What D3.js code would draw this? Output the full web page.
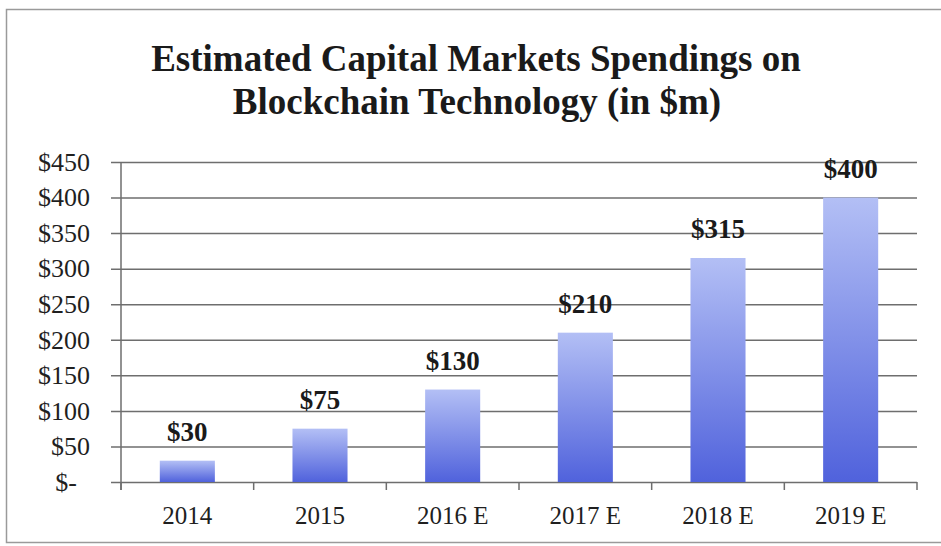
<!DOCTYPE html>
<html>
<head>
<meta charset="utf-8">
<script src="https://cdn.jsdelivr.net/npm/d3@7"></script>
<style>
  body { margin: 0; background: #fff; }
  svg { display: block; font-family: "Liberation Serif", "Times New Roman", serif; }
</style>
</head>
<body>
<div id="chart"></div>
<script>
// chart data
var years = ['2014', '2015', '2016 E', '2017 E', '2018 E', '2019 E'];
var spend = [30, 75, 130, 210, 315, 400];
var yTicks = [0, 50, 100, 150, 200, 250, 300, 350, 400, 450];

var width = 941,
  height = 546;

var margin = {top: 162, right: 24, bottom: 64, left: 121};

var svg = d3.select('#chart').append('svg')
    .attr('width', width)
    .attr('height', height);

// outer frame
svg.append('rect')
    .attr('x', 6.5).attr('y', 9.5)
    .attr('width', 950).attr('height', 533)
    .style('fill', 'none')
    .style('stroke', '#9a9a9a')
    .style('stroke-width', 1.5);

var x = d3.scaleBand()
    .domain(years)
    .range([margin.left, width - margin.right])
    .paddingInner(0.585)
    .paddingOuter(0.2925);

var y = d3.scaleLinear()
    .domain([0, 450])
    .range([height - margin.bottom, margin.top]);

// bar gradient
var grad = svg.append('defs').append('linearGradient')
    .attr('id', 'barGrad')
    .attr('x1', '0%').attr('y1', '0%')
    .attr('x2', '0%').attr('y2', '100%');
grad.append('stop').attr('offset', '0%').attr('stop-color', '#b3bff5');
grad.append('stop').attr('offset', '100%').attr('stop-color', '#5062dc');

// title
svg.append('text')
    .attr('x', 476).attr('y', 71)
    .attr('text-anchor', 'middle')
    .style('font-size', '37px')
    .style('font-weight', 'bold')
    .style('fill', '#1a1a1a')
    .text('Estimated Capital Markets Spendings on');
svg.append('text')
    .attr('x', 477).attr('y', 114)
    .attr('text-anchor', 'middle')
    .style('font-size', '37px')
    .style('font-weight', 'bold')
    .style('fill', '#1a1a1a')
    .text('Blockchain Technology (in $m)');

// gridlines + y axis
var yAxis = d3.axisLeft(y)
    .tickValues(yTicks)
    .tickSize(-(width - margin.right - margin.left))
    .tickPadding(31)
    .tickFormat(function(d) { return d === 0 ? '$-\u2007' : '$' + d; });

var gy = svg.append('g')
    .attr('transform', 'translate(' + margin.left + ',0)')
    .call(yAxis);
gy.select('.domain').remove();
gy.selectAll('.tick line')
    .attr('x1', -10)
    .style('stroke', '#6e6e6e')
    .style('stroke-width', 1.5);
gy.selectAll('.tick text')
    .style('font-size', '26px')
    .style('font-family', '"Liberation Serif", serif')
    .style('fill', '#1f1f1f');

// y axis line
svg.append('line')
    .attr('x1', margin.left).attr('x2', margin.left)
    .attr('y1', y(450)).attr('y2', y(0) + 8)
    .style('stroke', '#6e6e6e')
    .style('stroke-width', 1.5);

// bars
svg.append('g').selectAll('rect')
    .data(spend)
  .enter().append('rect')
    .attr('x', function(d, i) { return x(years[i]); })
    .attr('y', function(d) { return y(d); })
    .attr('width', x.bandwidth())
    .attr('height', function(d) { return y(0) - y(d); })
    .style('fill', 'url(#barGrad)');

// x axis with category boundary ticks
var step = x.step();
var bounds = d3.range(years.length + 1).map(function(i) { return margin.left + i * step; });
svg.append('g').selectAll('line')
    .data(bounds)
  .enter().append('line')
    .attr('x1', function(d) { return d; }).attr('x2', function(d) { return d; })
    .attr('y1', y(0)).attr('y2', y(0) + 8)
    .style('stroke', '#6e6e6e')
    .style('stroke-width', 1.5);

svg.append('g').selectAll('text')
    .data(years)
  .enter().append('text')
    .attr('x', function(d) { return x(d) + x.bandwidth() / 2; })
    .attr('y', 524)
    .attr('text-anchor', 'middle')
    .style('font-size', '25px')
    .style('fill', '#1f1f1f')
    .text(function(d) { return d; });

// value labels
svg.append('g').selectAll('text')
    .data(spend)
  .enter().append('text')
    .attr('x', function(d, i) { return x(years[i]) + x.bandwidth() / 2; })
    .attr('y', function(d) { return y(d) - 20; })
    .attr('text-anchor', 'middle')
    .style('font-size', '27px')
    .style('font-weight', 'bold')
    .style('fill', '#1a1a1a')
    .text(function(d) { return '$' + d; });
</script>
</body>
</html>
